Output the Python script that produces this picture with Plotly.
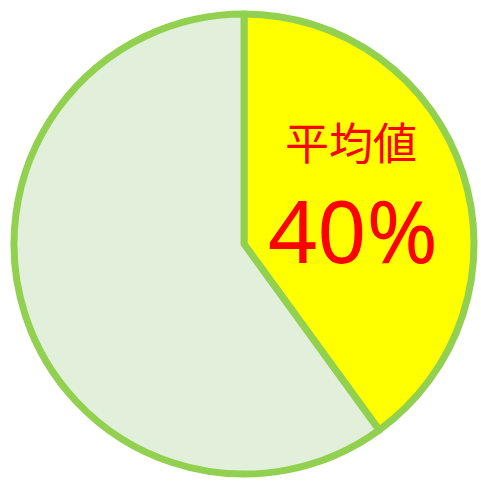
import plotly.graph_objects as go

labels = ["平均値", "その他"]
values = [40, 60]
colors = ["#FFFF00", "#E2EFDA"]
title_text = "平均値"
value_text = "40%"

W = H = 481
ML, MR, MT, MB = 14, 7, 14, 7
PW, PH = W - ML - MR, H - MT - MB


def px(x, y):
    return (x - ML) / PW, 1 - (y - MT) / PH


fig = go.Figure(go.Pie(
    labels=labels,
    values=values,
    sort=False,
    direction="clockwise",
    rotation=0,
    textinfo="none",
    hoverinfo="label+percent",
    marker=dict(colors=colors, line=dict(color="#92D050", width=7)),
    showlegend=False,
))

x1, y1 = px(351, 141)
fig.add_annotation(x=x1, y=y1, xref="paper", yref="paper",
                   xanchor="center", yanchor="middle",
                   text=title_text, showarrow=False,
                   font=dict(family="Noto Sans CJK JP", size=44, color="#FF0000"))
x2, y2 = px(353, 229)
fig.add_annotation(x=x2, y=y2, xref="paper", yref="paper",
                   xanchor="center", yanchor="middle",
                   text=value_text, showarrow=False,
                   font=dict(family="Noto Sans", size=86, color="#FF0000"))

fig.update_layout(
    width=W, height=H,
    margin=dict(l=ML, r=MR, t=MT, b=MB),
    paper_bgcolor="white",
    plot_bgcolor="white",
)
fig.write_html("out.html", config={"displayModeBar": False},
               post_script="document.body.style.margin='0';")
